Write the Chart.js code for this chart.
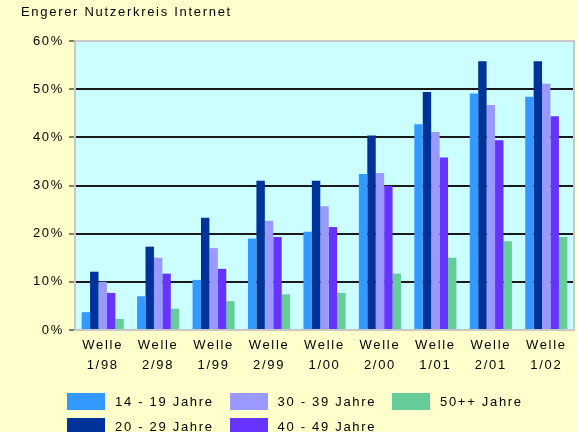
<!DOCTYPE html>
<html>
<head>
<meta charset="utf-8">
<title>Engerer Nutzerkreis Internet</title>
<script src="https://cdn.jsdelivr.net/npm/chart.js@4/dist/chart.umd.min.js"></script>
<style>
  html, body { margin: 0; padding: 0; background: #ffffcc; }
  #wrap { position: relative; width: 577px; height: 432px; }
  #legend { position: absolute; left: 0; top: 0; font: 13px 'Liberation Sans', Arial, sans-serif; letter-spacing: 1.7px; color: #000; }
  .item { position: absolute; height: 17px; white-space: nowrap; }
  .box { position: absolute; left: 0; top: 0; width: 38px; height: 17px; }
  .txt { position: absolute; left: 48px; top: 0; line-height: 17px; }
</style>
</head>
<body>
<div id="wrap">
  <canvas id="chart" width="577" height="432"></canvas>
  <div id="legend"></div>
</div>
<script>
// survey waves
const waves = ['1/98', '2/98', '1/99', '2/99', '1/00', '2/00', '1/01', '2/01', '1/02'];

// share of age group in the narrow user circle, percent
const age14to19 = [3.7, 7.0, 10.4, 19.0, 20.4, 32.4, 42.7, 49.1, 48.4];
const age20to29 = [12.1, 17.3, 23.3, 31.0, 31.0, 40.4, 49.4, 55.8, 55.8];
const age30to39 = [10.0, 15.0, 17.0, 22.7, 25.7, 32.6, 41.1, 46.7, 51.1];
const age40to49 = [7.7, 11.7, 12.7, 19.3, 21.4, 29.9, 35.8, 39.4, 44.4];
const age50plus = [2.3, 4.4, 6.0, 7.4, 7.7, 11.7, 15.0, 18.4, 19.3];

const seriesLabels = ['14 - 19 Jahre', '20 - 29 Jahre', '30 - 39 Jahre', '40 - 49 Jahre', '50++ Jahre'];
const seriesColors = ['#3399ff', '#003399', '#9999ff', '#6633ff', '#66cc99'];
const yTicks = [0, 10, 20, 30, 40, 50, 60];

const FONT = "'Liberation Sans', Arial, sans-serif";
const LETTER_SPACING = '1.7px';

// plot background, frame and wide text spacing
const plotFrame = {
    id: 'plotFrame',
    beforeUpdate(chart) {
        chart.ctx.letterSpacing = LETTER_SPACING;
    },
    beforeDraw(chart) {
        const ctx = chart.ctx;
        const a = chart.chartArea;
        ctx.letterSpacing = LETTER_SPACING;
        ctx.save();
        ctx.fillStyle = '#ccffff';
        ctx.fillRect(a.left, a.top, a.right - a.left, a.bottom - a.top);
        ctx.restore();
    },
    beforeDatasetsDraw(chart) {
        const ctx = chart.ctx;
        const a = chart.chartArea;
        ctx.save();
        ctx.strokeStyle = '#c8c8c8';
        ctx.lineWidth = 2;
        ctx.strokeRect(a.left, a.top, a.right - a.left, a.bottom - a.top);
        ctx.restore();
    }
};

const values = [age14to19, age20to29, age30to39, age40to49, age50plus];
const datasets = values.map(function (data, i) {
    return {
        label: seriesLabels[i],
        data: data,
        backgroundColor: seriesColors[i],
        borderWidth: 0,
        categoryPercentage: 0.76,
        barPercentage: 1.0
    };
});

const chart = new Chart(document.getElementById('chart').getContext('2d'), {
    type: 'bar',
    data: {
        labels: waves.map(function (w) { return ['Welle', w]; }),
        datasets: datasets
    },
    options: {
        responsive: false,
        animation: false,
        layout: { padding: { left: 21, right: 3, top: 0, bottom: 0 } },
        plugins: {
            legend: { display: false },
            tooltip: { enabled: false },
            title: {
                display: true,
                text: 'Engerer Nutzerkreis Internet',
                align: 'start',
                color: '#000',
                font: { family: FONT, size: 13, weight: 'normal', lineHeight: 1.2 },
                padding: { top: 4.5, bottom: 20.9 }
            }
        },
        scales: {
            x: {
                grid: { display: false, drawTicks: false },
                border: { display: false },
                ticks: {
                    color: '#000',
                    font: { family: FONT, size: 13, lineHeight: 1.49 },
                    padding: 6,
                    maxRotation: 0,
                    autoSkip: false
                },
                afterFit: function (scale) { scale.height = 102; }
            },
            y: {
                min: 0,
                max: 60,
                afterBuildTicks: function (scale) {
                    scale.ticks = yTicks.map(function (v) { return { value: v }; });
                },
                grid: {
                    color: function (ctx) {
                        const v = ctx.tick ? ctx.tick.value : 0;
                        return (v === 0 || v === 60) ? 'rgba(0,0,0,0)' : '#1a1a1a';
                    },
                    lineWidth: 2,
                    drawTicks: true,
                    tickLength: 6,
                    tickColor: '#000',
                    tickWidth: 1
                },
                border: { display: false },
                ticks: {
                    color: '#000',
                    font: { family: FONT, size: 13 },
                    padding: 5,
                    callback: function (v) { return v + '%'; }
                },
                afterFit: function (scale) { scale.width = 54; }
            }
        }
    },
    plugins: [plotFrame]
});

// legend in three columns, filled top to bottom
const legend = document.getElementById('legend');
chart.data.datasets.forEach(function (ds, i) {
    const col = Math.floor(i / 2);
    const row = i % 2;
    const item = document.createElement('div');
    item.className = 'item';
    item.style.left = (67 + col * 162.5) + 'px';
    item.style.top = (393 + row * 25) + 'px';
    const box = document.createElement('div');
    box.className = 'box';
    box.style.background = ds.backgroundColor;
    const txt = document.createElement('span');
    txt.className = 'txt';
    txt.textContent = ds.label;
    item.appendChild(box);
    item.appendChild(txt);
    legend.appendChild(item);
});
</script>
</body>
</html>
